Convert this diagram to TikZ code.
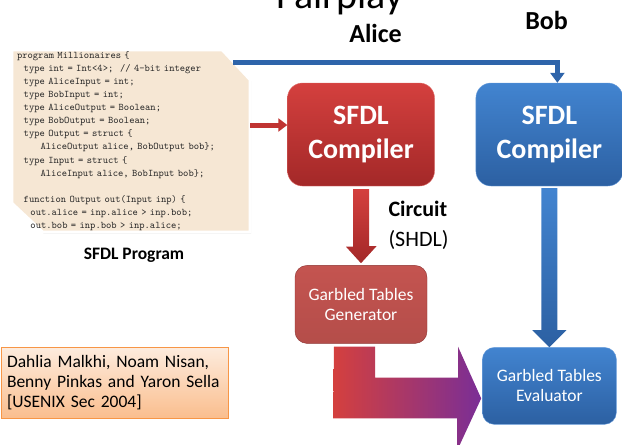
\documentclass[tikz,border=0pt]{standalone}
\usepackage{fontspec}
\setmainfont{Carlito}
\usetikzlibrary{arrows.meta,positioning,calc,backgrounds,shadows}
\definecolor{alicetop}{RGB}{212,64,62}
\definecolor{alicebot}{RGB}{163,40,40}
\definecolor{aliceline}{RGB}{222,110,106}
\definecolor{bobtop}{RGB}{66,132,208}
\definecolor{bobbot}{RGB}{44,96,162}
\definecolor{bobline}{RGB}{110,160,220}
\definecolor{gentop}{RGB}{196,84,80}
\definecolor{genline}{RGB}{140,50,48}
\definecolor{paperbeige}{RGB}{246,231,212}
\definecolor{citetop}{RGB}{253,236,222}
\definecolor{citebot}{RGB}{250,190,142}
\definecolor{citeline}{RGB}{247,150,70}
\definecolor{wirered}{RGB}{192,52,50}
\definecolor{wireblue}{RGB}{46,100,170}
\definecolor{fatpurple}{RGB}{122,46,150}
\newcommand{\codefont}{\fontsize{10.1}{13.1}\selectfont\ttfamily
  \spaceskip 0.525em\relax \xspaceskip 0.525em\relax}
\tikzset{
  compilerbox/.style = {rounded corners=15pt, minimum width=147pt, minimum height=103pt, inner sep=0pt, align=center, text=white, font=\fontsize{28}{34}\selectfont\bfseries},
  alicebox/.style = {compilerbox, draw=aliceline, top color=alicetop, bottom color=alicebot},
  bobbox/.style = {compilerbox, draw=bobline, top color=bobtop, bottom color=bobbot},
  tablebox/.style = {rounded corners=12pt, minimum width=132pt, minimum height=78pt, inner sep=0pt, align=center, text=white, font=\fontsize{17.5}{20}\selectfont},
  genbox/.style = {tablebox, draw=genline, top color=gentop, bottom color=gentop!92!black},
  evalbox/.style = {tablebox, minimum width=134pt, minimum height=77pt, draw=bobline, top color=bobtop, bottom color=bobbot},
  codebox/.style = {minimum width=238pt, minimum height=182pt, text width=228pt, inner sep=0pt, align=left, text=black!85, font=\codefont},
  paper/.style = {fill=paperbeige, draw=white, line width=3pt, drop shadow={shadow xshift=1pt, shadow yshift=-1.5pt, opacity=0.35}},
  citebox/.style = {draw=citeline, top color=citetop, bottom color=citebot, minimum width=227pt, minimum height=71pt, text width=215pt, inner sep=0pt, align=left, font=\fontsize{17.5}{20}\selectfont},
  party/.style = {font=\fontsize{26}{30}\selectfont\bfseries},
  alicewire/.style = {wirered, line width=5pt, -{Triangle[width=13pt,length=9pt]}},
  bobwire/.style = {wireblue, line width=5pt, -{Triangle[width=14pt,length=10pt]}},
  alicearrow/.style = {top color=alicetop, bottom color=alicebot},
  bobarrow/.style = {top color=bobtop, bottom color=bobbot},
  fatarrow/.style = {left color=alicetop, right color=fatpurple}
}
\begin{document}
\begin{tikzpicture}[x=1pt,y=-1pt]
\useasboundingbox (0,0) rectangle (622,445);
\node[anchor=base,font=\fontsize{40}{48}\selectfont] (title) at (340,8) {Fairplay};
\node[party] (alice) at (375.5,33) {Alice};
\node[party] (bob) at (546.5,20) {Bob};

\node[codebox] (code) at (131,141) {%
program Millionaires \{\\
\mbox{}~~type int = Int<4>;~~// 4-bit integer\\
\mbox{}~~type AliceInput = int;\\
\mbox{}~~type BobInput = int;\\
\mbox{}~~type AliceOutput = Boolean;\\
\mbox{}~~type BobOutput = Boolean;\\
\mbox{}~~type Output = struct \{\\
\mbox{}~~~~~~~AliceOutput alice, BobOutput bob\};\\
\mbox{}~~type Input = struct \{\\
\mbox{}~~~~~~~AliceInput alice, BobInput bob\};\\
\mbox{}\\
\mbox{}~~function Output out(Input inp) \{\\
\mbox{}~~~~out.alice = inp.alice > inp.bob;\\
\mbox{}~~~~out.bob = inp.bob > inp.alice;};
\node[font=\fontsize{17.5}{20}\selectfont\bfseries] (program) at (134,255) {SFDL Program};

\node[alicebox] (sfdlA) at (361,134.5) {SFDL\\Compiler};
\node[bobbox,right=41pt of sfdlA] (sfdlB) {SFDL\\Compiler};
\node[genbox,below=79pt of sfdlA] (gen) {Garbled Tables\\Generator};
\node[evalbox,below=161pt of sfdlB] (eval) {Garbled Tables\\Evaluator};
\node[align=left,anchor=west,font=\fontsize{22}{30}\selectfont] (circuit) at (385,225) {\textbf{Circuit}\\(SHDL)};
\node[citebox] (cite) at (114.5,382.5) {Dahlia Malkhi, Noam Nisan,\\Benny Pinkas and Yaron Sella\\{[USENIX Sec 2004]}};

\begin{scope}[on background layer]
\fill[paper] (code.north west) -- ([xshift=-28pt]code.north east) -- ([yshift=-30pt]code.north east) -- (code.south east) -- ([xshift=31pt]code.south west) -- ([yshift=29pt]code.south west) -- cycle;
\end{scope}

\coordinate (feed) at ([yshift=9.5pt]sfdlA.west);
\draw[alicewire] (code.east |- feed) -- (feed);
\draw[bobwire] ([xshift=-17pt,yshift=-12.5pt]code.north east) -| ([xshift=8pt]sfdlB.north);

\shade[alicearrow] ([xshift=-8pt,yshift=-3pt]sfdlA.south) -- ++(16,0) -- ++(0,57) -- ++(7.5,0) -- ([yshift=2pt]gen.north) -- ++(-15,-16.5) -- ++(7,0) -- cycle;
\shade[bobarrow] ([xshift=-8pt,yshift=-2pt]sfdlB.south) -- ++(16,0) -- ++(0,142) -- ++(9,0) -- (eval.north) -- ++(-17,-17) -- ++(9,0) -- cycle;
\shade[fatarrow] ([xshift=-27pt,yshift=-3pt]gen.south) -- ++(41,0) -- ++(0,31) -- ++(83,0) -- ++(0,-31) -- ([xshift=-1pt,yshift=-12.5pt]eval.west) -- ++(-24,52) -- ++(0,-32) -- ++(-124,0) -- cycle;
\end{tikzpicture}
\end{document}
